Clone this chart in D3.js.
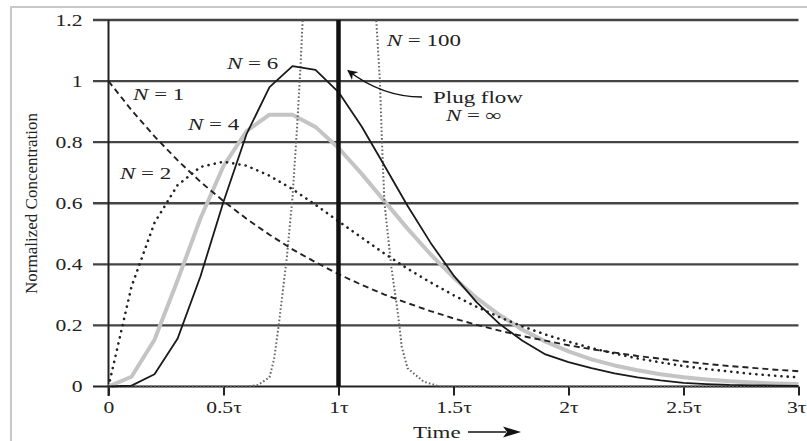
<!DOCTYPE html>
<html><head><meta charset="utf-8">
<script src="https://cdn.jsdelivr.net/npm/d3@7"></script>
<style>body{margin:0;background:#fff} svg{display:block}</style>
</head><body><svg id="c" width="807" height="441"></svg>
<script>
// ---------- data ----------
const time = [0,0.1,0.2,0.3,0.4,0.5,0.6,0.7,0.8,0.9,1.0,1.1,1.2,1.3,1.4,1.5,1.6,1.7,1.8,1.9,2.0,2.1,2.2,2.3,2.4,2.5,2.6,2.7,2.8,2.9,3.0];
const n1 = [1.00,0.905,0.819,0.741,0.670,0.607,0.549,0.497,0.449,0.407,0.368,0.333,0.301,0.273,0.247,0.223,0.202,0.183,0.165,0.150,0.135,0.122,0.111,0.100,0.091,0.082,0.074,0.067,0.061,0.055,0.050];
const n2 = [0,0.327,0.536,0.659,0.719,0.736,0.723,0.690,0.646,0.595,0.541,0.488,0.435,0.386,0.341,0.299,0.261,0.227,0.197,0.170,0.147,0.126,0.108,0.092,0.079,0.067,0.057,0.049,0.041,0.035,0.030];
const n4 = [0,0.032,0.153,0.347,0.551,0.722,0.836,0.890,0.890,0.850,0.781,0.697,0.607,0.517,0.433,0.357,0.290,0.234,0.186,0.147,0.115,0.089,0.069,0.053,0.040,0.030,0.023,0.017,0.013,0.010,0.008];
const n6 = [0,0.003,0.040,0.156,0.361,0.605,0.826,0.980,1.049,1.037,0.964,0.852,0.723,0.592,0.471,0.364,0.276,0.205,0.150,0.105,0.080,0.060,0.043,0.030,0.020,0.012,0.008,0.005,0.004,0.003,0.002];
const time100 = [0,0.6,0.65,0.7,0.72,0.74,0.775,0.8,0.82,0.835,0.85,0.9,1.0,1.1,1.15,1.165,1.18,1.19,1.2,1.23,1.26,1.275,1.3,1.37,1.44,3.0];
const n100 = [0,0,0.005,0.03,0.09,0.2,0.42,0.62,0.85,1.05,1.3,2.6,3.98,2.6,1.3,1.19,1.0,0.78,0.6,0.39,0.23,0.13,0.06,0.016,0,0];
const plugTime = 1;
const xTicks = [0,0.5,1,1.5,2,2.5,3];
const xTickLabels = ["0","0.5τ","1τ","1.5τ","2τ","2.5τ","3τ"];
const yTicks = [0,0.2,0.4,0.6,0.8,1,1.2];
const yTickLabels = ["0","0.2","0.4","0.6","0.8","1","1.2"];
const seriesNames = ["1","2","4","6","100"];

// ---------- layout ----------
const svg = d3.select("#c");
const x = d3.scaleLinear().domain([0,3]).range([108.5,798.5]);
const y = d3.scaleLinear().domain([0,1.2]).range([386.5,20]);
const SX = 1.35; // horizontal stretch of the lettering
const FONT = "'Liberation Serif','Times New Roman',serif";

// frame
svg.append("path").attr("d","M11,441 L11,7 L807,7").attr("fill","none")
  .attr("stroke","#c8c8c8").attr("stroke-width",2);

// grid lines
svg.append("g").selectAll("line").data(yTicks.filter(d=>d>0)).join("line")
  .attr("x1",93).attr("x2",x(3)).attr("y1",d=>y(d)).attr("y2",d=>y(d))
  .attr("stroke","#444").attr("stroke-width",2.4);
svg.append("line").attr("x1",93).attr("x2",x(3)).attr("y1",y(0)).attr("y2",y(0))
  .attr("stroke","#222").attr("stroke-width",2);
svg.append("line").attr("x1",x(0)).attr("x2",x(0)).attr("y1",y(1.2)).attr("y2",396)
  .attr("stroke","#222").attr("stroke-width",2);

// x axis
const gx = svg.append("g").attr("transform",`translate(0,${y(0)})`)
  .call(d3.axisBottom(x).tickValues(xTicks).tickFormat((d,i)=>xTickLabels[i]).tickSize(9));
gx.select(".domain").remove();
gx.selectAll(".tick line").attr("stroke","#222").attr("stroke-width",2);
gx.selectAll(".tick text").attr("y",15).attr("font-family",FONT).attr("font-size",16)
  .attr("fill","#222").attr("transform",`scale(${SX},1)`);
// last label is flush with the right edge of the picture
gx.selectAll(".tick text").filter(d=>d===3)
  .attr("text-anchor","end").attr("x",(806-x(3))/SX);

// y axis labels
const gy = svg.append("g").attr("transform",`translate(${x(0)},0)`)
  .call(d3.axisLeft(y).tickValues(yTicks).tickFormat((d,i)=>yTickLabels[i]).tickSize(0));
gy.select(".domain").remove();
gy.selectAll(".tick text").attr("x",-26/SX).attr("font-family",FONT).attr("font-size",16)
  .attr("fill","#222").attr("transform",`scale(${SX},1)`);

// clip
svg.append("clipPath").attr("id","clip").append("rect")
  .attr("x",x(0)).attr("y",y(1.2)).attr("width",x(3)-x(0)+2).attr("height",y(0)-y(1.2)+2);

const line = d3.line().x(d=>x(d[0])).y(d=>y(d[1]));
const plot = svg.append("g").attr("clip-path","url(#clip)");
function draw(tt, vv, stroke, width, dash, cap){
  plot.append("path").datum(tt.map((t,i)=>[t,vv[i]]))
    .attr("d",line).attr("fill","none").attr("stroke",stroke)
    .attr("stroke-width",width).attr("stroke-dasharray",dash||null)
    .attr("stroke-linecap",cap||"butt").attr("stroke-linejoin","round");
}
draw(time, n4, "#c4c4c4", 4);
draw(time100, n100, "#666", 2, "1.6,2.2");
draw(time, n2, "#222", 2.6, "0.1,6.2", "round");
draw(time, n1, "#222", 1.9, "6,4");
draw(time, n6, "#1a1a1a", 1.8);

// plug flow
svg.append("line").attr("x1",x(plugTime)).attr("x2",x(plugTime)).attr("y1",y(1.2)).attr("y2",y(0))
  .attr("stroke","#111").attr("stroke-width",4.5);

// labels
function label(px, py, parts, size){
  const g = svg.append("g").attr("transform",`translate(${px},${py}) scale(${SX},1)`);
  const t = g.append("text").attr("font-family",FONT).attr("font-size",size||17).attr("fill","#222");
  parts.forEach(p=>t.append("tspan").attr("font-style",p[1]?"italic":null).text(p[0]));
}
const nLabelPos = {"1":[0.107,0.938],"2":[0.05,0.68],"4":[0.346,0.84],"6":[0.515,1.038],"100":[1.21,1.115]};
seriesNames.forEach(n=>{
  const p = nLabelPos[n];
  label(x(p[0]), y(p[1]), [["N",true],[" = "+n,false]]);
});
label(x(1.411), y(0.928), [["Plug flow",false]]);
label(x(1.467), y(0.868), [["N",true],[" = ∞",false]]);

// plug flow arrow
svg.append("defs").append("marker").attr("id","ah").attr("viewBox","0 0 10 10")
  .attr("refX",9).attr("refY",5).attr("markerWidth",10).attr("markerHeight",10)
  .attr("markerUnits","userSpaceOnUse").attr("orient","auto")
  .append("path").attr("d","M0,0 L10,5 L0,10 L3,5 Z").attr("fill","#111");
svg.append("path").attr("d","M422,97 Q382,97 348,70.5").attr("fill","none")
  .attr("stroke","#111").attr("stroke-width",1.5).attr("marker-end","url(#ah)");

// axis titles
svg.append("g").attr("transform","translate(36.5,203.5) rotate(-90)")
  .append("text").attr("text-anchor","middle").attr("font-family",FONT)
  .attr("font-size",17).attr("fill","#222").text("Normalized Concentration");
label(413, 438, [["Time",false]]);
svg.append("line").attr("x1",468).attr("x2",506).attr("y1",432).attr("y2",432)
  .attr("stroke","#111").attr("stroke-width",1.5);
svg.append("path").attr("d","M521,432 L503,426.5 L507,432 L503,437.5 Z").attr("fill","#111");
</script></body></html>
